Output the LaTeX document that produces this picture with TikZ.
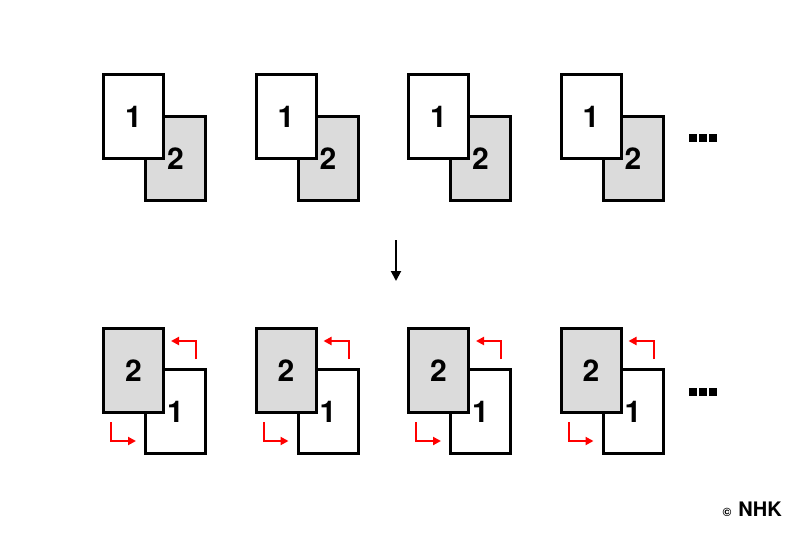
\documentclass[tikz,border=0pt]{standalone}
\usepackage{fontspec}
\setmainfont{TeX Gyre Heros}
\usetikzlibrary{arrows.meta}
\begin{document}
\begin{tikzpicture}[x=1pt,y=-1pt,
  page/.style={draw=black,line width=3pt,minimum width=60pt,minimum height=84pt,inner sep=0pt,font=\bfseries\fontsize{30}{30}\selectfont},
  whitepage/.style={page,fill=white},
  graypage/.style={page,fill=black!14},
  redarrow/.style={draw=red,line width=2pt,-{Triangle[length=8pt,width=8pt]}},
  dot/.style={fill=black,minimum size=8pt,inner sep=0pt}]
\useasboundingbox (0,0) rectangle (800,533);
\foreach \i in {0,1,2,3}{
  \pgfmathsetmacro{\x}{102+152.5*\i}
  % top row
  \node[graypage,anchor=north west] (tb\i) at (\x+42,115) {2};
  \node[whitepage,anchor=north west] (tf\i) at (\x,73) {1};
  % bottom row
  \node[whitepage,anchor=north west] (bb\i) at (\x+42,368) {1};
  \node[graypage,anchor=north west] (bf\i) at (\x,327) {2};
  \coordinate (ra\i) at (\x+94,359);
  \coordinate (rb\i) at (\x+94,341);
  \coordinate (rc\i) at (\x+69,341);
  \coordinate (la\i) at (\x+9,422);
  \coordinate (lb\i) at (\x+9,441);
  \coordinate (lc\i) at (\x+34,441);
  \draw[redarrow] (ra\i) -- (rb\i) -- (rc\i);
  \draw[redarrow] (la\i) -- (lb\i) -- (lc\i);
}
\foreach \r/\y in {t/138,b/392}{
  \node[dot] (\r d1) at (693,\y) {};
  \node[dot] (\r d2) at (703,\y) {};
  \node[dot] (\r d3) at (713,\y) {};
}
\coordinate (arA) at (396,240);
\coordinate (arB) at (396,281);
\draw[line width=2pt,-{Triangle[length=10pt,width=10pt]}] (arA) -- (arB);
\node[anchor=east,inner sep=0pt] (nhk) at (782,509) {\bfseries{\fontsize{12}{12}\selectfont\textcopyright}\hspace{7pt}\fontsize{20}{20}\selectfont NHK};
\end{tikzpicture}
\end{document}
